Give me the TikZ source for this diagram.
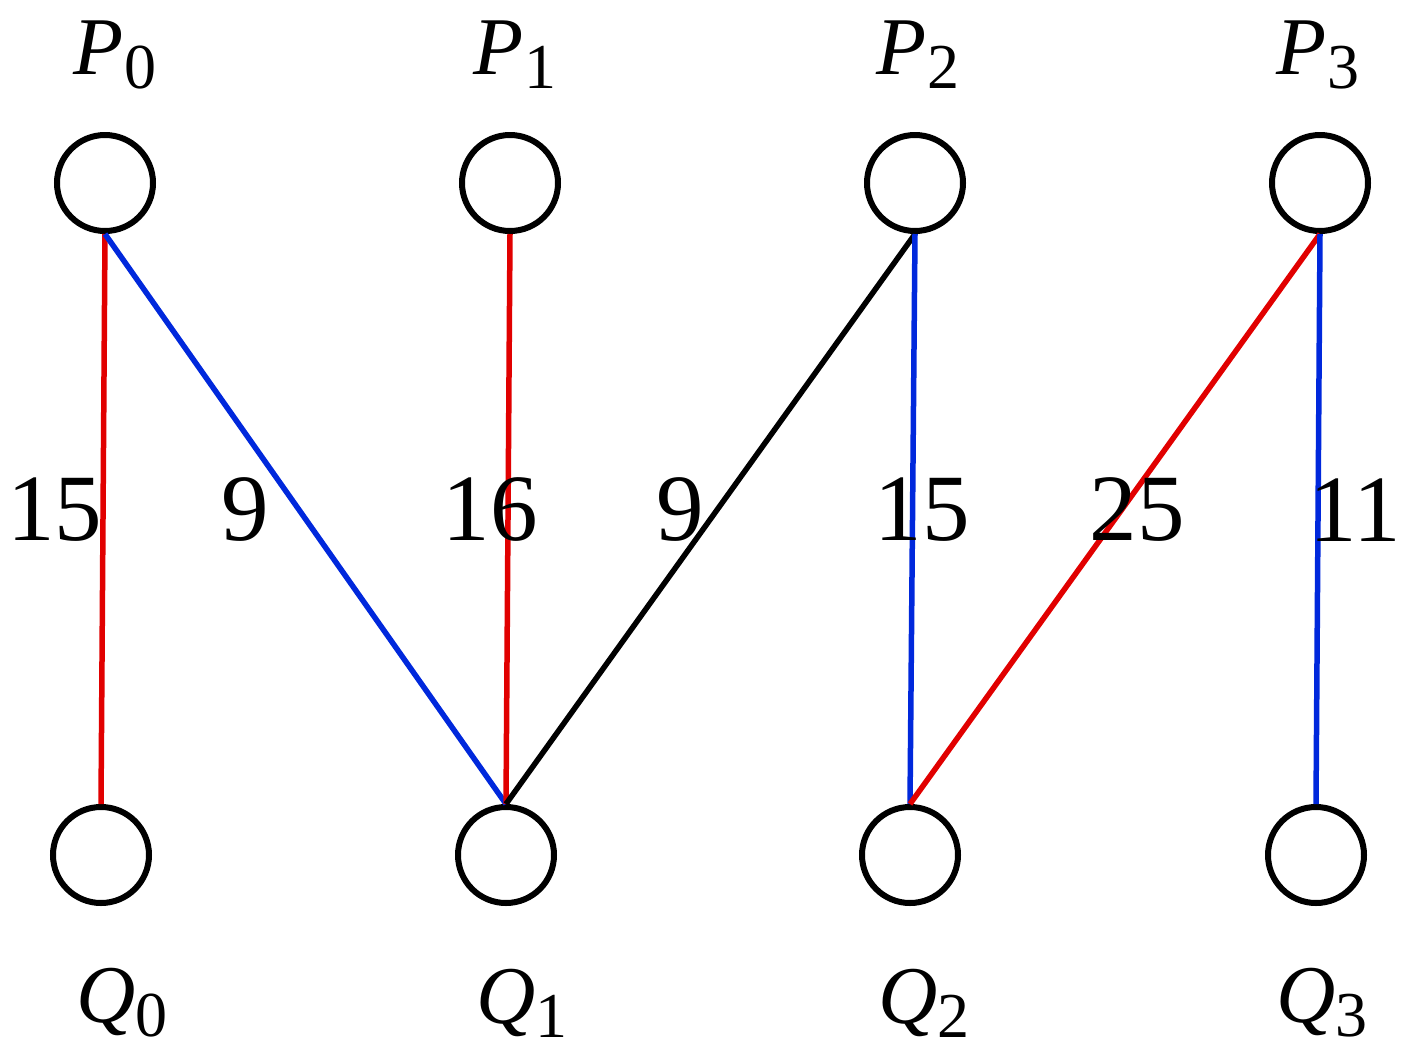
\documentclass[tikz,border=0pt]{standalone}
\usepackage{fontspec}
\setmainfont{Liberation Serif}
\definecolor{er}{RGB}{225,0,0}
\definecolor{eb}{RGB}{0,40,220}
\newcommand{\lbl}[2]{{\itshape #1}\raisebox{-14pt}{\fontsize{64}{68}\selectfont #2}}
\begin{document}
\begin{tikzpicture}[x=1pt,y=-1pt,
  vtx/.style={circle,draw=black,line width=6pt,minimum size=96pt,inner sep=0pt},
  lab/.style={font=\fontsize{82}{86}\selectfont},
  num/.style={font=\fontsize{95}{100}\selectfont},
  edge/.style={line width=5.5pt}]
\useasboundingbox (0,0) rectangle (1411,1058);
\node[vtx] (p0) at (105,183) {};
\node[vtx] (p1) at (510,183) {};
\node[vtx] (p2) at (915,183) {};
\node[vtx] (p3) at (1320,183) {};
\node[vtx] (q0) at (101,855) {};
\node[vtx] (q1) at (506,855) {};
\node[vtx] (q2) at (910,855) {};
\node[vtx] (q3) at (1316,855) {};
\foreach \i/\x in {0/115,1/515,2/918,3/1318}{
  \node[lab] (lp\i) at (\x,55) {\lbl{P}{\i}};}
\foreach \i/\x in {0/122,1/522,2/924,3/1322}{
  \node[lab] (lq\i) at (\x,1003) {\lbl{Q}{\i}};}
\draw[edge,er] (p0.south) -- (q0.north);
\draw[edge,eb] (p0.south) -- (q1.north);
\draw[edge,er] (p1.south) -- (q1.north);
\draw[edge,black] (p2.south) -- (q1.north);
\draw[edge,eb] (p2.south) -- (q2.north);
\draw[edge,er] (p3.south) -- (q2.north);
\draw[edge,eb] (p3.south) -- (q3.north);
\node[num] (n1) at (55,510) {15};
\node[num] (n2) at (245,510) {9};
\node[num] (n3) at (490,510) {16};
\node[num] (n4) at (680,510) {9};
\node[num] (n5) at (922,510) {15};
\node[num] (n6) at (1137,510) {25};
\node[num] (n7) at (1355,510) {11};
\end{tikzpicture}
\end{document}
